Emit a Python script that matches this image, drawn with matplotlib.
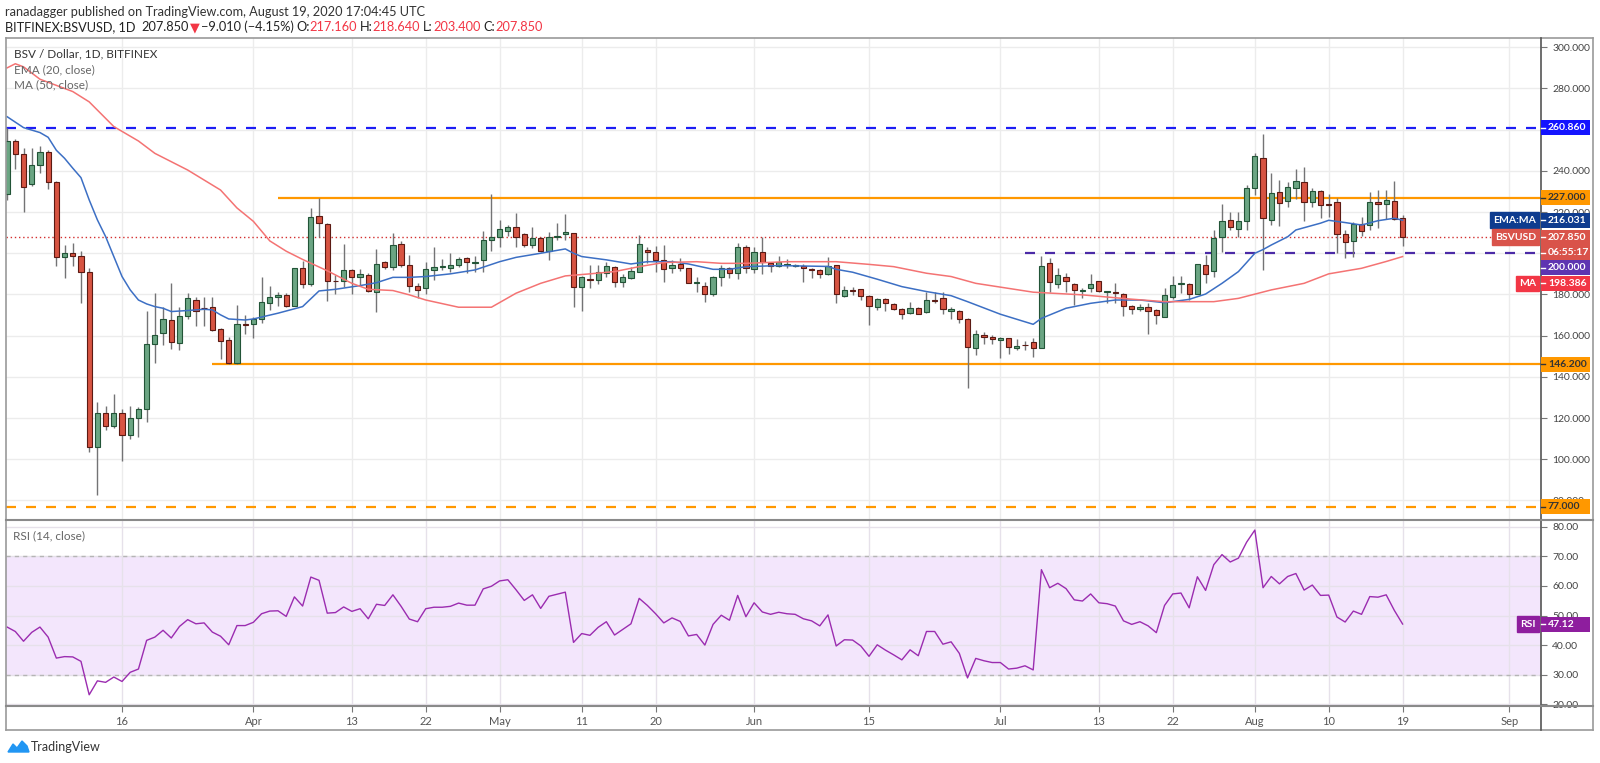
import matplotlib
matplotlib.use('Agg')
import matplotlib.pyplot as plt
import matplotlib.dates as mdates
from matplotlib.lines import Line2D
from matplotlib.patches import Polygon, Rectangle
import numpy as np
import pandas as pd

plt.rcParams['font.family'] = ['Lato', 'DejaVu Sans']

# ---- data (BSV/USD daily, Bitfinex) ----
days = pd.date_range('2020-03-02', '2020-08-19', freq='D')

open_ = [
    # Mar 2..31
    228.6, 254.7, 248.2, 233.5, 242.9, 249.0, 234.8, 198.4, 200.3, 198.7,
    191.1, 105.8, 122.3, 116.3, 122.6, 111.8, 119.9, 124.3, 156.0, 161.5,
    167.6, 156.6, 169.7, 177.3, 173.6, 173.8, 163.1, 157.9, 146.6, 165.5,
    # Apr
    165.5, 168.1, 175.7, 178.6, 179.8, 174.6, 192.7, 185.3, 218.3, 214.1,
    186.7, 186.4, 191.9, 188.5, 189.5, 181.2, 195.8, 193.3, 204.7, 194.2,
    184.3, 183.0, 191.7, 193.5, 192.9, 194.2, 197.6, 195.3, 196.6, 206.5,
    # May
    208.1, 210.8, 212.6, 209.4, 204.0, 207.6, 201.1, 207.8, 209.2, 209.7,
    183.5, 187.7, 187.2, 190.6, 193.5, 185.9, 187.8, 190.8, 201.8, 200.8,
    196.9, 192.7, 194.6, 192.7, 185.4, 184.1, 180.4, 188.3, 192.7, 190.3, 203.2,
    # Jun
    192.2, 200.8, 195.1, 194.0, 194.5, 194.0, 194.0, 192.2, 191.9, 190.0,
    194.2, 179.3, 182.2, 182.5, 179.3, 173.8, 177.8, 175.4, 172.8, 170.9,
    173.3, 171.4, 177.3, 178.1, 172.2, 172.0, 168.1, 154.2, 160.4, 159.5,
    # Jul
    157.8, 158.7, 154.2, 155.6, 156.8, 154.2, 195.1, 185.1, 188.7, 184.9,
    181.7, 183.0, 186.4, 181.1, 181.1, 180.2, 174.4, 173.0, 173.8, 172.5,
    168.9, 178.6, 185.0, 185.0, 180.2, 194.3, 191.6, 208.1, 216.2, 212.0, 215.7,
    # Aug 1..19
    231.5, 246.4, 216.0, 229.6, 225.5, 231.9, 234.6, 224.7, 230.4, 223.9,
    224.7, 209.4, 206.0, 214.1, 213.7, 224.7, 223.8, 225.5, 217.16,
]
high = [
    260.7, 255.5, 251.0, 251.3, 252.1, 250.2, 235.1, 204.0, 205.2, 201.3,
    192.7, 128.0, 125.9, 131.5, 124.3, 125.9, 125.6, 172.0, 180.9, 174.1,
    185.8, 173.8, 180.9, 179.0, 178.9, 179.0, 163.5, 159.2, 174.9, 170.0,
    169.2, 188.7, 184.3, 181.4, 180.9, 193.0, 196.4, 221.8, 227.0, 214.5,
    189.5, 204.5, 192.3, 192.4, 190.3, 201.9, 196.4, 209.7, 206.1, 199.2,
    185.4, 195.9, 203.2, 197.1, 200.0, 198.0, 198.4, 198.7, 211.0, 228.6,
    216.2, 213.7, 219.4, 209.7, 212.9, 207.8, 210.5, 214.9, 218.9, 209.9,
    189.0, 194.2, 194.2, 195.9, 193.8, 190.0, 193.5, 208.9, 202.9, 203.5,
    204.0, 196.7, 197.6, 193.0, 188.3, 185.9, 189.0, 194.2, 193.5, 204.8, 204.0,
    203.2, 208.1, 195.9, 198.9, 197.4, 194.8, 194.8, 192.7, 192.4, 198.4,
    194.5, 184.1, 183.5, 182.8, 179.6, 178.1, 178.1, 175.9, 173.3, 176.4,
    173.8, 181.1, 181.4, 181.1, 173.8, 172.5, 168.4, 162.5, 161.6, 160.4,
    159.5, 159.0, 158.2, 157.6, 158.7, 198.9, 197.6, 192.7, 190.6, 185.4,
    183.0, 189.8, 186.7, 181.9, 185.4, 180.6, 174.9, 175.4, 175.7, 173.0,
    183.3, 189.0, 189.0, 185.4, 194.8, 199.2, 211.3, 223.8, 220.2, 220.2, 233.2,
    248.5, 257.9, 239.1, 235.6, 234.8, 240.8, 241.7, 231.5, 230.7, 228.8,
    226.7, 211.3, 215.4, 217.8, 229.9, 230.7, 230.7, 235.1, 218.64,
]
low = [
    226.0, 240.9, 220.2, 232.5, 239.1, 231.0, 194.0, 188.2, 193.8, 175.7,
    103.7, 82.7, 114.2, 115.4, 99.2, 109.9, 111.0, 118.3, 146.9, 155.5,
    153.4, 152.8, 168.1, 164.9, 164.9, 162.3, 148.5, 146.2, 146.2, 161.0,
    158.7, 166.3, 172.5, 174.4, 174.1, 174.4, 183.0, 184.3, 208.1, 176.9,
    180.3, 183.8, 180.3, 184.6, 181.4, 171.7, 192.2, 191.9, 193.5, 181.4,
    178.1, 180.3, 187.0, 191.9, 191.1, 193.5, 190.3, 191.1, 191.1, 201.1,
    203.2, 208.5, 202.9, 203.2, 202.4, 200.8, 196.8, 206.5, 206.5, 174.1,
    172.2, 183.0, 184.9, 188.7, 183.8, 183.8, 187.5, 190.8, 195.5, 191.1,
    186.2, 190.3, 191.4, 185.4, 181.4, 176.5, 179.3, 184.3, 188.2, 187.4, 190.3,
    190.3, 190.0, 191.1, 193.2, 192.9, 193.5, 186.2, 188.2, 187.8, 189.5,
    176.0, 178.9, 179.8, 177.3, 165.2, 172.5, 172.0, 172.5, 168.1, 170.4,
    170.4, 171.2, 175.7, 170.4, 167.9, 166.0, 134.8, 150.6, 156.0, 156.0,
    149.3, 151.1, 153.1, 153.1, 149.8, 154.0, 181.4, 183.0, 181.4, 174.9,
    178.5, 181.4, 181.4, 176.0, 176.0, 169.7, 170.4, 172.0, 160.7, 165.7,
    168.9, 177.7, 180.9, 177.3, 180.0, 185.7, 188.7, 200.5, 211.3, 208.1, 211.3,
    228.3, 191.9, 213.7, 213.3, 222.6, 226.4, 215.8, 222.6, 217.0, 217.8,
    200.3, 197.6, 198.4, 208.4, 211.3, 212.4, 216.5, 216.2, 203.40,
]
close = [
    254.7, 248.2, 232.0, 242.9, 249.0, 234.8, 198.4, 200.3, 198.7, 191.1,
    105.8, 122.3, 116.3, 122.6, 111.8, 119.9, 124.3, 156.0, 160.4, 168.1,
    157.1, 169.7, 178.2, 172.2, 173.3, 162.8, 157.6, 146.6, 165.5, 165.0,
    168.1, 176.2, 178.6, 179.8, 174.6, 192.7, 185.3, 217.8, 214.5, 186.4,
    186.4, 191.9, 188.3, 190.0, 181.9, 194.6, 193.3, 203.9, 194.3, 184.3,
    182.2, 192.5, 193.5, 193.7, 194.2, 197.1, 195.6, 195.9, 206.5, 208.1,
    211.6, 212.6, 208.1, 204.0, 207.3, 201.1, 207.8, 208.5, 210.2, 183.4,
    188.3, 186.9, 190.8, 193.8, 186.1, 188.7, 191.4, 204.4, 200.8, 196.6,
    192.2, 194.3, 193.0, 185.7, 186.1, 180.4, 188.6, 192.7, 190.3, 202.9, 192.7,
    200.8, 195.6, 194.0, 195.6, 194.8, 194.3, 192.7, 191.7, 189.9, 193.8,
    180.1, 182.0, 181.9, 179.4, 174.4, 177.7, 175.7, 173.0, 170.4, 173.6,
    170.5, 177.3, 177.0, 172.8, 172.8, 168.1, 154.7, 160.7, 159.5, 158.2,
    158.7, 154.7, 155.2, 155.3, 153.9, 193.8, 185.9, 189.5, 186.7, 182.2,
    182.2, 185.1, 181.9, 181.7, 180.6, 174.4, 173.1, 173.8, 172.2, 170.1,
    179.6, 184.8, 185.4, 180.1, 194.6, 190.0, 207.6, 215.7, 212.6, 215.7, 231.5,
    247.4, 217.0, 229.1, 224.2, 232.0, 235.1, 225.1, 230.4, 223.3, 223.4,
    209.5, 205.5, 214.1, 210.8, 224.7, 223.8, 225.9, 216.86, 207.85,
]

rsi = [
    46.1, 44.6, 41.3, 44.3, 46.1, 42.7, 35.6, 36.1, 36.0, 34.5,
    23.2, 27.9, 27.4, 29.2, 27.7, 30.8, 31.9, 41.6, 42.7, 45.0,
    42.4, 46.3, 48.6, 47.2, 47.5, 44.4, 43.0, 40.1, 46.6, 46.6,
    47.7, 50.6, 51.5, 51.6, 49.7, 56.3, 53.2, 63.0, 61.9, 50.8,
    51.0, 52.9, 51.4, 52.3, 48.9, 53.8, 53.4, 57.0, 53.1, 48.8,
    47.9, 52.3, 52.8, 52.8, 53.1, 54.2, 53.5, 53.5, 59.0, 59.9,
    61.7, 62.1, 58.7, 55.1, 57.0, 52.4, 56.5, 57.2, 57.9, 40.9,
    43.9, 43.3, 46.0, 47.9, 43.4, 45.3, 47.2, 55.8, 53.4, 50.6,
    47.5, 49.2, 48.0, 43.1, 43.6, 40.0, 47.0, 50.1, 48.4, 56.8, 49.6,
    54.3, 51.2, 50.4, 51.1, 50.6, 50.4, 48.9, 48.2, 46.5, 50.2,
    39.7, 41.8, 41.7, 39.7, 36.2, 40.1, 38.3, 36.7, 35.0, 38.4,
    36.4, 44.6, 44.6, 40.3, 41.1, 37.2, 28.9, 35.5, 34.7, 34.1,
    34.1, 31.9, 32.2, 33.0, 31.6, 65.5, 59.4, 60.9, 59.1, 55.3,
    54.9, 57.3, 54.3, 54.0, 53.2, 48.2, 47.0, 47.9, 46.5, 44.2,
    53.4, 57.3, 57.6, 52.6, 63.1, 58.5, 67.2, 70.6, 68.1, 69.4, 74.8,
    78.9, 59.4, 63.2, 60.7, 63.2, 64.2, 58.6, 60.3, 56.8, 56.9,
    49.5, 47.8, 51.5, 50.4, 56.4, 56.2, 57.0, 51.7, 47.12,
]

# EMA(20) and MA(50) traced as line vertices
ema_dates = ['2020-03-02', '2020-03-04', '2020-03-06', '2020-03-07', '2020-03-08', '2020-03-09',
             '2020-03-10', '2020-03-11', '2020-03-12', '2020-03-13', '2020-03-14', '2020-03-15',
             '2020-03-16', '2020-03-17', '2020-03-18', '2020-03-19', '2020-03-20', '2020-03-21',
             '2020-03-22', '2020-03-24', '2020-03-26', '2020-03-27', '2020-03-28', '2020-03-29',
             '2020-03-31', '2020-04-01', '2020-04-04', '2020-04-07', '2020-04-09', '2020-04-11',
             '2020-04-14', '2020-04-16', '2020-04-18', '2020-04-20', '2020-04-22', '2020-04-25',
             '2020-04-28', '2020-05-01', '2020-05-03', '2020-05-06', '2020-05-09', '2020-05-10',
             '2020-05-11', '2020-05-14', '2020-05-17', '2020-05-19', '2020-05-22', '2020-05-24',
             '2020-05-27', '2020-05-29', '2020-05-31', '2020-06-04', '2020-06-10', '2020-06-11',
             '2020-06-13', '2020-06-16', '2020-06-19', '2020-06-22', '2020-06-25', '2020-06-27',
             '2020-07-01', '2020-07-05', '2020-07-06', '2020-07-09', '2020-07-12', '2020-07-15',
             '2020-07-18', '2020-07-21', '2020-07-24', '2020-07-26', '2020-07-28', '2020-07-30',
             '2020-07-31', '2020-08-01', '2020-08-02', '2020-08-03', '2020-08-05', '2020-08-06',
             '2020-08-09', '2020-08-10', '2020-08-12', '2020-08-14', '2020-08-16', '2020-08-18',
             '2020-08-19']
ema_vals = [266.3, 261.0, 258.6, 256.3, 250.0, 246.1, 241.3, 236.7, 225.9, 216.2, 208.1, 198.4,
            188.7, 182.2, 177.3, 175.4, 174.1, 173.3, 171.7, 172.2, 172.8, 172.5, 170.1, 168.1,
            167.6, 168.1, 170.9, 174.1, 181.7, 182.5, 184.3, 185.7, 188.3, 188.3, 188.7, 190.0,
            191.9, 195.9, 198.0, 200.0, 202.1, 200.0, 198.4, 196.8, 194.8, 195.9, 195.9, 194.8,
            192.2, 192.2, 193.5, 194.0, 193.6, 192.2, 190.8, 187.4, 183.8, 181.4, 179.4, 176.5,
            170.4, 165.5, 168.4, 173.3, 175.7, 177.3, 177.3, 176.0, 177.6, 180.2, 185.4, 191.1,
            195.5, 200.0, 201.8, 204.0, 208.0, 211.3, 214.6, 216.0, 214.9, 213.7, 215.8, 217.0,
            216.031]

ma_dates = ['2020-03-02', '2020-03-03', '2020-03-04', '2020-03-06', '2020-03-10', '2020-03-12',
            '2020-03-15', '2020-03-18', '2020-03-20', '2020-03-24', '2020-03-28', '2020-03-30',
            '2020-04-01', '2020-04-03', '2020-04-05', '2020-04-07', '2020-04-10', '2020-04-13',
            '2020-04-15', '2020-04-18', '2020-04-20', '2020-04-22', '2020-04-26', '2020-04-30',
            '2020-05-03', '2020-05-06', '2020-05-09', '2020-05-12', '2020-05-15', '2020-05-18',
            '2020-05-21', '2020-05-25', '2020-05-28', '2020-05-31', '2020-06-05', '2020-06-11',
            '2020-06-15', '2020-06-18', '2020-06-22', '2020-06-25', '2020-06-28', '2020-07-05',
            '2020-07-11', '2020-07-17', '2020-07-21', '2020-07-27', '2020-07-30', '2020-08-03',
            '2020-08-07', '2020-08-10', '2020-08-14', '2020-08-17', '2020-08-19']
ma_vals = [290.0, 292.0, 290.5, 284.5, 278.5, 273.5, 261.5, 254.5, 248.5, 240.4, 230.7, 222.0,
           215.5, 206.0, 201.0, 197.0, 191.5, 185.4, 182.5, 181.9, 179.8, 177.3, 173.8, 173.8,
           180.6, 185.4, 189.0, 190.0, 191.1, 193.5, 195.5, 195.9, 195.1, 195.1, 195.9, 195.9,
           194.6, 193.5, 190.3, 188.7, 185.4, 181.1, 179.8, 177.7, 176.5, 176.5, 178.1, 182.2,
           185.4, 190.0, 192.7, 196.0, 198.386]

# drawn levels
level_top = 260.86
level_res = 227.0
level_res_from = '2020-04-04'
level_mid = 200.0
level_mid_from = '2020-07-04'
level_sup = 146.2
level_sup_from = '2020-03-27'
level_low = 77.0

tick_dates = ['2020-03-16', '2020-04-01', '2020-04-13', '2020-04-22', '2020-05-01', '2020-05-11',
              '2020-05-20', '2020-06-01', '2020-06-15', '2020-07-01', '2020-07-13', '2020-07-22',
              '2020-08-01', '2020-08-10', '2020-08-19', '2020-09-01']
tick_labels = ['16', 'Apr', '13', '22', 'May', '11', '20', 'Jun', '15', 'Jul', '13', '22',
               'Aug', '10', '19', 'Sep']
price_ticks = [80, 100, 120, 140, 160, 180, 200, 220, 240, 260, 280, 300]
covered_ticks = [200, 260]   # hidden behind the price tags in the reference
rsi_ticks = [20, 30, 40, 50, 60, 70, 80]

# ---- figure ----
W, H = 1600, 763
fig = plt.figure(figsize=(W / 100, H / 100), dpi=100)
fig.patch.set_facecolor('white')

main_px, main_lim = (38, 520), (70.5, 304.5)
rsi_px, rsi_lim = (520, 706), (19.4, 82.3)


def px_box(l, t, r, b):
    return [l / W, 1 - b / H, (r - l) / W, (b - t) / H]


ax = fig.add_axes(px_box(5.7, main_px[0], 1541, main_px[1]))
ax2 = fig.add_axes(px_box(5.7, rsi_px[0], 1541, rsi_px[1]))

x = mdates.date2num(days)
o = np.array(open_)
hi = np.array(high)
lo = np.array(low)
c = np.array(close)
up = c >= o

ax.vlines(x, lo, hi, color='#737375', lw=1, zorder=3)
ax.bar(x[up], c[up] - o[up], bottom=o[up], width=0.64, color='#6ba583',
       edgecolor='#225437', linewidth=0.8, zorder=4)
ax.bar(x[~up], o[~up] - c[~up], bottom=c[~up], width=0.64, color='#d75442',
       edgecolor='#5b1a13', linewidth=0.8, zorder=4)

ax.plot(mdates.date2num(pd.to_datetime(ema_dates)), ema_vals, color='#3c6fc4', lw=1.1, zorder=5)
ax.plot(mdates.date2num(pd.to_datetime(ma_dates)), ma_vals, color='#f47373', lw=1.1, zorder=5)

x_left = mdates.date2num(pd.Timestamp('2020-03-16')) - 14.17
x_right = mdates.date2num(pd.Timestamp('2020-08-19')) + 16.86
dash = (0, (4.5, 4.5))

ax.axhline(level_top, color='#1d1df5', lw=1.6, ls=dash, zorder=2)
ax.hlines(level_res, mdates.date2num(pd.Timestamp(level_res_from)), x_right,
          color='#ff9800', lw=1.6, zorder=2)
ax.hlines(level_sup, mdates.date2num(pd.Timestamp(level_sup_from)), x_right,
          color='#ff9800', lw=1.6, zorder=2)
ax.hlines(level_mid, mdates.date2num(pd.Timestamp(level_mid_from)), x_right,
          color='#4a2aa6', lw=1.6, ls=dash, zorder=2)
ax.axhline(level_low, color='#ff9800', lw=1.6, ls=dash, zorder=2)
ax.axhline(close[-1], color='#d32f2f', lw=1, ls=(0, (1, 2)), zorder=2)

ax.set_xlim(x_left, x_right)
ax.set_ylim(*main_lim)
tick_x = mdates.date2num(pd.to_datetime(tick_dates))
ax.set_xticks(tick_x)
ax.set_yticks(price_ticks)
ax.set_yticklabels(['' if v in covered_ticks else '%.3f' % v for v in price_ticks])
ax.yaxis.tick_right()
ax.grid(True, color='#ececec', lw=1)
ax.set_axisbelow(True)
ax.tick_params(axis='x', bottom=False, labelbottom=False)
ax.tick_params(axis='y', direction='out', length=4, color='#777', labelsize=7.5,
               labelcolor='#444', pad=4)

# RSI panel
ax2.axhspan(30, 70, color='#f3e6fc', lw=0, zorder=0)
ax2.axhline(70, color='#b5b5b5', lw=1, ls=(0, (3, 3)), zorder=1)
ax2.axhline(30, color='#b5b5b5', lw=1, ls=(0, (3, 3)), zorder=1)
ax2.plot(x, rsi, color='#9b2cb0', lw=1, zorder=4)
ax2.set_xlim(x_left, x_right)
ax2.set_ylim(*rsi_lim)
ax2.set_yticks(rsi_ticks)
ax2.set_yticklabels(['%.2f' % v for v in rsi_ticks])
ax2.yaxis.tick_right()
ax2.set_xticks(tick_x)
ax2.set_xticklabels(tick_labels)
ax2.grid(True, color='#e6e1ea', lw=1)
ax2.set_axisbelow(True)
ax2.tick_params(axis='y', direction='out', length=4, color='#777', labelsize=7.5,
                labelcolor='#444', pad=4)
ax2.tick_params(axis='x', direction='out', length=4, color='#777', labelsize=8,
                labelcolor='#555', pad=3)

for a in (ax, ax2):
    for s in a.spines.values():
        s.set_visible(False)


# frame lines
def fig_line(x0, y0, x1, y1, color='#9a9a9a', lw=1.2, z=2):
    fig.add_artist(Line2D([x0 / W, x1 / W], [1 - y0 / H, 1 - y1 / H], color=color, lw=lw,
                          transform=fig.transFigure, zorder=z))


fig_line(5.7, 38, 1593, 38)
fig_line(5.7, 730, 1593, 730)
fig_line(5.7, 38, 5.7, 730)
fig_line(1593, 38, 1593, 730)
fig_line(1541, 38, 1541, 730, color='#555')
fig_line(5.7, 520, 1593, 520, color='#8a8a8a', lw=1.5)
fig_line(5.7, 706, 1593, 706, color='#8a8a8a', lw=1.5)


# price scale tags (placed in figure pixels from the panel's value range)
def value_px(v, px, lim):
    return px[0] + (lim[1] - v) / (lim[1] - lim[0]) * (px[1] - px[0])


def right_tag(ypx, txt, bg, fg='white'):
    fig.add_artist(Rectangle((1541 / W, 1 - (ypx + 7.5) / H), 49 / W, 15 / H,
                             transform=fig.transFigure, fc=bg, ec='none', zorder=20))
    fig_line(1541, ypx, 1545, ypx, color=fg, lw=1, z=21)
    fig.text(1548 / W, 1 - ypx / H, txt, color=fg, fontsize=7.5, fontweight='bold',
             ha='left', va='center', zorder=22)


def left_tag(ypx, txt, bg):
    fig.text(1536 / W, 1 - ypx / H, txt, color='white', fontsize=7.5, fontweight='bold',
             ha='right', va='center', zorder=22,
             bbox=dict(boxstyle='square,pad=0.32', fc=bg, ec=bg))


ema_last = ema_vals[-1]
ma_last = ma_vals[-1]
last = close[-1]
y_last = value_px(last, main_px, main_lim)
stack = 15.45

right_tag(value_px(level_top, main_px, main_lim), '%.3f' % level_top, '#1414ff')
right_tag(value_px(level_res, main_px, main_lim), '%.3f' % level_res, '#ff9800', fg='#333')
right_tag(value_px(ema_last, main_px, main_lim), '%.3f' % ema_last, '#0e3c8f')
left_tag(value_px(ema_last, main_px, main_lim), 'EMA:MA', '#0e3c8f')
right_tag(y_last, '%.3f' % last, '#d9534a')
left_tag(y_last, 'BSVUSD', '#d9534a')
right_tag(y_last + stack, '06:55:17', '#d9534a')
right_tag(y_last + 2 * stack, '%.3f' % level_mid, '#5e35b1')
right_tag(y_last + 3 * stack, '%.3f' % ma_last, '#f23645')
left_tag(y_last + 3 * stack, 'MA', '#f23645')
right_tag(value_px(level_sup, main_px, main_lim), '%.3f' % level_sup, '#ff9800', fg='#333')
right_tag(value_px(level_low, main_px, main_lim), '%.3f' % level_low, '#ff9800', fg='#333')
right_tag(value_px(rsi[-1], rsi_px, rsi_lim), '%.2f' % rsi[-1], '#8e1e9e')
left_tag(value_px(rsi[-1], rsi_px, rsi_lim), 'RSI', '#8e1e9e')

# legends inside panes
fig.text(14 / W, 1 - 54 / H, 'BSV / Dollar, 1D, BITFINEX', fontsize=8.5, color='#333', va='center')
fig.text(14 / W, 1 - 70 / H, 'EMA (20, close)', fontsize=8.5, color='#666', va='center')
fig.text(14 / W, 1 - 85 / H, 'MA (50, close)', fontsize=8.5, color='#666', va='center')
fig.text(13 / W, 1 - 536 / H, 'RSI (14, close)', fontsize=8.5, color='#666', va='center')

# header
fig.text(5.4 / W, 1 - 12.5 / H, 'ranadagger published on TradingView.com, August 19, 2020 17:04:45 UTC',
         fontsize=9.2, color='#333', va='center')
parts = [('BITFINEX:BSVUSD, 1D', '#222', 5), ('207.850', '#222', 2), ('▼', '#f23645', 1),
         ('−9.010 (−4.15%)', '#222', 2), ('O:', '#222', 0), ('217.160', '#f23645', 3),
         ('H:', '#222', 0), ('218.640', '#f23645', 3), ('L:', '#222', 0),
         ('203.400', '#f23645', 3), ('C:', '#222', 0), ('207.850', '#f23645', 0)]
renderer = fig.canvas.get_renderer()
xpos = 5.4
for s, col, gap in parts:
    t = fig.text(xpos / W, 1 - 27 / H, s, fontsize=9.2, color=col, va='center')
    xpos += t.get_window_extent(renderer).width + gap

# footer logo
logo = np.array([[8, 752], [13, 744], [17, 748], [22, 741], [27, 746], [29, 752]])
fig.add_artist(Polygon(np.column_stack([logo[:, 0] / W, 1 - logo[:, 1] / H]),
                       closed=True, fc='#2196f3', ec='#2196f3', transform=fig.transFigure))
fig.text(31 / W, 1 - 747 / H, 'TradingView', fontsize=9, color='#333', va='center')

fig.savefig('out.png', dpi=100)
